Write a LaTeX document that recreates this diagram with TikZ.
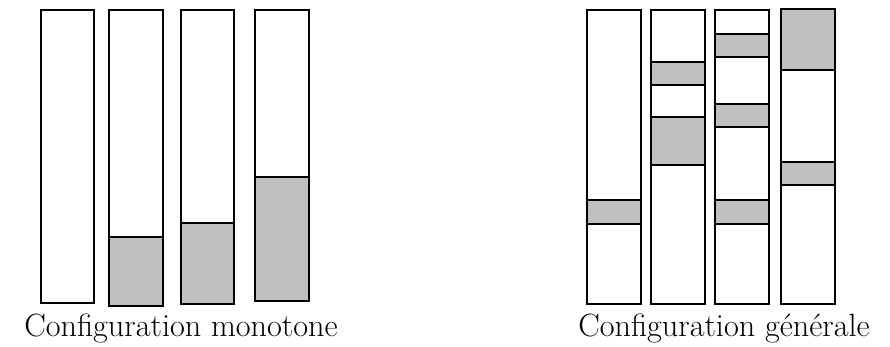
\documentclass[tikz,border=0pt]{standalone}
\definecolor{hellgrau}{RGB}{192,192,192}
\begin{document}
\begin{tikzpicture}[x=0.03cm, y=-0.03cm, line width=1.2pt]
	\useasboundingbox (0,0) rectangle (890,347);
	\tikzset{band/.style={draw, fill=hellgrau}, titel/.style={anchor=base, font=\fontsize{27.5}{32}\selectfont}}
	
	%Configuration monotone
	\draw[band](109, 237) rectangle (163, 306);
	\draw[band](181, 223) rectangle (234, 304);
	\draw[band](255, 177) rectangle (309, 301);
	\draw(41, 10) rectangle (94, 303);
	\draw(109, 10) rectangle (163, 306);
	\draw(181, 10) rectangle (234, 304);
	\draw(255, 10) rectangle (309, 301);
	
	%Configuration generale
	\draw[band](587, 200) rectangle (641, 224);
	\draw[band](651, 62) rectangle (705, 85);
	\draw[band](651, 117) rectangle (705, 165);
	\draw[band](715, 34) rectangle (769, 57);
	\draw[band](715, 104) rectangle (769, 127);
	\draw[band](715, 200) rectangle (769, 224);
	\draw[band](781, 9) rectangle (835, 70);
	\draw[band](781, 162) rectangle (835, 185);
	\draw(587, 10) rectangle (641, 304);
	\draw(651, 10) rectangle (705, 304);
	\draw(715, 10) rectangle (769, 304);
	\draw(781, 9) rectangle (835, 304);
	
	\node[titel] (mono) at (181, 337) {Configuration monotone};
	\node[titel] (gen) at (724, 337) {Configuration générale};
\end{tikzpicture}
\end{document}
